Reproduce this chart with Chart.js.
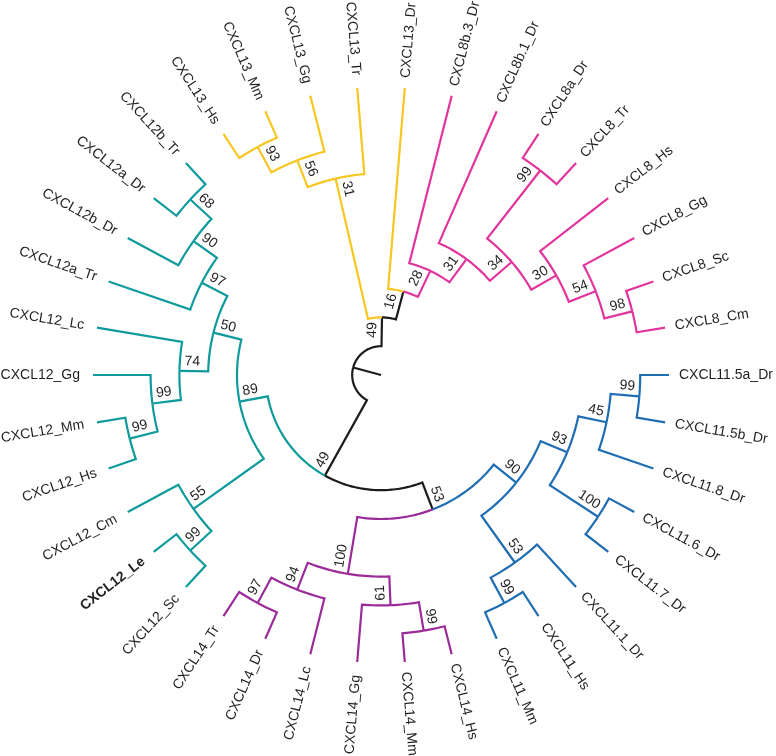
<!DOCTYPE html>
<html><head><meta charset="utf-8">
<script src="https://cdn.jsdelivr.net/npm/chart.js@4.4.0/dist/chart.umd.min.js"></script>
<style>html,body{margin:0;padding:0;background:#fff;}#wrap{width:776px;height:756px;}</style>
</head><body><div id="wrap"><canvas id="c" width="776" height="756"></canvas></div>
<script>
// ---- DATA (leaves listed counter-clockwise, starting just above 3 o'clock) ----
const leafNames = ['CXCL8_Cm','CXCL8_Sc','CXCL8_Gg','CXCL8_Hs','CXCL8_Tr','CXCL8a_Dr','CXCL8b.1_Dr','CXCL8b.3_Dr',
  'CXCL13_Dr','CXCL13_Tr','CXCL13_Gg','CXCL13_Mm','CXCL13_Hs',
  'CXCL12b_Tr','CXCL12a_Dr','CXCL12b_Dr','CXCL12a_Tr','CXCL12_Lc','CXCL12_Gg','CXCL12_Mm','CXCL12_Hs','CXCL12_Cm','CXCL12_Le','CXCL12_Sc',
  'CXCL14_Tr','CXCL14_Dr','CXCL14_Lc','CXCL14_Gg','CXCL14_Mm','CXCL14_Hs',
  'CXCL11_Mm','CXCL11_Hs','CXCL11.1_Dr','CXCL11.7_Dr','CXCL11.6_Dr','CXCL11.8_Dr','CXCL11.5b_Dr','CXCL11.5a_Dr'];
const leafParent = ['M98','M98','M54','M30','M99','M99','M31','M28',
  'N16','Y31','Y56','Y93','Y93',
  'T68','T68','T90','T97','T74','T99b','T99a','T99a','T55','T99c','T99c',
  'P97','P97','P94','P61','P99','P99',
  'B99','B99','B53','B100','B100','B45','B99x','B99x'];
const leafClade = ['magenta','magenta','magenta','magenta','magenta','magenta','magenta','magenta',
  'yellow','yellow','yellow','yellow','yellow',
  'teal','teal','teal','teal','teal','teal','teal','teal','teal','teal','teal',
  'purple','purple','purple','purple','purple','purple',
  'blue','blue','blue','blue','blue','blue','blue','blue'];
const boldLeaves = ['CXCL12_Le'];

const nodeIds     = ['R','A','N16','M28','M31','M34','M99','M30','M54','M98','Y31','Y56','Y93',
  'B','T89','T50','T97','T90','T68','T74','T99b','T99a','T55','T99c',
  'N53','P100','P94','P97','P61','P99','B90','B53','B99','B93','B100','B45','B99x'];
const nodeParent  = [null,'R','A','N16','M28','M31','M34','M34','M30','M54','A','Y31','Y56',
  'R','B','T89','T50','T97','T90','T50','T74','T99b','T89','T55',
  'B','N53','P100','P94','P100','P61','N53','B90','B53','B90','B93','B93','B45'];
const nodeDepth   = [1,2,3,4,5,6,9,7,8,9,7,8,9,
  4,5,6,7,8,9,7,8,9,8,9,
  5,7,8,9,8,9,6,8,9,7,9,8,9];
const nodeSupport = [null,49,16,28,31,34,99,30,54,98,31,56,93,
  49,89,50,97,90,68,74,99,99,55,99,
  53,100,94,97,61,99,90,53,99,93,100,45,99];
const nodeClade   = ['root','root','root','magenta','magenta','magenta','magenta','magenta','magenta','magenta','yellow','yellow','yellow',
  'root','teal','teal','teal','teal','teal','teal','teal','teal','teal','teal',
  'root','purple','purple','purple','purple','purple','blue','blue','blue','blue','blue','blue','blue'];
const tipDepth = 10;

// ---- STYLE ----
const cladeColor = {root:'#1c1c1c', teal:'#0f9a9b', yellow:'#f8c621', magenta:'#e1349c', purple:'#9b2b98', blue:'#1f6db2'};
const PX = 28.8;               // pixels per depth level
const CX = 381, CY = 375;      // centre of the circle in the canvas
const W = 776, H = 756;
const DEG = Math.PI / 180;
const FONT = '"Liberation Sans", Arial, Helvetica, sans-serif';

// ---- LAYOUT ----
const nLeaf = leafNames.length;
const leafTheta = leafNames.map((_, i) => (i + 1) * 360 / nLeaf);
const children = {};
nodeIds.forEach(id => children[id] = []);
nodeIds.forEach((id, i) => { if (nodeParent[i]) children[nodeParent[i]].push({leaf:false, i}); });
leafNames.forEach((n, i) => children[leafParent[i]].push({leaf:true, i}));
const nodeTheta = {};
function thetaOf(id){
  if (id in nodeTheta) return nodeTheta[id];
  const cs = children[id].map(c => c.leaf ? leafTheta[c.i] : thetaOf(nodeIds[c.i]));
  return nodeTheta[id] = (Math.min(...cs) + Math.max(...cs)) / 2;
}
nodeIds.forEach(thetaOf);
const depthOf = {}; nodeIds.forEach((id, i) => depthOf[id] = nodeDepth[i]);

const pol = (r, t) => ({x: r * Math.cos(t * DEG), y: r * Math.sin(t * DEG)});
function branch(rp, tp, rc, tc){
  const pts = [];
  const n = Math.max(1, Math.ceil(Math.abs(tc - tp) / 1));
  for (let k = 0; k <= n; k++) pts.push(pol(rp, tp + (tc - tp) * k / n));
  pts.push(pol(rc, tc));
  return pts;
}
function ds(pts, color){
  return {data: pts, showLine: true, borderColor: color, backgroundColor: color, borderWidth: 2.2,
    borderDash: [5000, 0],   // forces the exact path drawer (no per-pixel column merging)
    pointRadius: 0, pointHoverRadius: 0, borderJoinStyle: 'miter', borderCapStyle: 'butt', tension: 0, fill: false};
}
const datasets = [];
const order = [];
nodeIds.forEach((id, i) => { if (nodeParent[i]) order.push({leaf:false, i}); });
leafNames.forEach((n, i) => order.push({leaf:true, i}));
order.sort((a, b) => {
  const ca = a.leaf ? leafClade[a.i] : nodeClade[a.i];
  const cb = b.leaf ? leafClade[b.i] : nodeClade[b.i];
  return (ca === 'root') - (cb === 'root');
});
order.forEach(c => {
  const par = c.leaf ? leafParent[c.i] : nodeParent[c.i];
  const rc = c.leaf ? tipDepth : nodeDepth[c.i];
  const tc = c.leaf ? leafTheta[c.i] : nodeTheta[nodeIds[c.i]];
  const col = cladeColor[c.leaf ? leafClade[c.i] : nodeClade[c.i]];
  datasets.push(ds(branch(depthOf[par], nodeTheta[par], rc, tc), col));
});
nodeIds.forEach((id, i) => {
  if (!nodeParent[i]) datasets.push(ds([pol(0, nodeTheta[id]), pol(nodeDepth[i], nodeTheta[id])], cladeColor[nodeClade[i]]));
});

const labelPlugin = {
  id: 'treeLabels',
  afterDatasetsDraw(chart){
    const ctx = chart.ctx, xs = chart.scales.x, ys = chart.scales.y;
    const px = (r, t) => [xs.getPixelForValue(r * Math.cos(t * DEG)), ys.getPixelForValue(r * Math.sin(t * DEG))];
    ctx.save();
    ctx.fillStyle = '#231f20';
    ctx.textBaseline = 'middle';
    leafNames.forEach((name, i) => {
      const t = leafTheta[i];
      const [x, y] = px(tipDepth, t);
      const left = t > 90 && t < 270;
      ctx.save();
      ctx.translate(x, y);
      ctx.rotate((left ? 180 - t : -t) * DEG);
      ctx.font = (boldLeaves.includes(name) ? 'bold ' : '') + '14px ' + FONT;
      ctx.textAlign = left ? 'right' : 'left';
      ctx.fillText(name, left ? -13 : 10, 0);
      ctx.restore();
    });
    ctx.font = '14px ' + FONT;
    ctx.textAlign = 'center';
    nodeIds.forEach((id, i) => {
      if (nodeSupport[i] == null) return;
      const t = nodeTheta[id];
      const [x, y] = px(nodeDepth[i], t);
      const left = t > 90 && t < 275;
      const s = String(nodeSupport[i]);
      const w = ctx.measureText(s).width;
      const along = 5 + w / 2;
      ctx.save();
      ctx.translate(x, y);
      ctx.rotate((left ? 180 - t : -t) * DEG);
      ctx.fillText(s, left ? along : -along, -9.5);
      ctx.restore();
    });
    ctx.restore();
  }
};

new Chart(document.getElementById('c'), {
  type: 'scatter',
  data: {datasets},
  options: {
    animation: false,
    responsive: false,
    events: [],
    layout: {padding: 0},
    plugins: {legend: {display: false}, tooltip: {enabled: false}},
    scales: {
      x: {type: 'linear', display: false, min: -CX / PX, max: (W - CX) / PX},
      y: {type: 'linear', display: false, min: -(H - CY) / PX, max: CY / PX}
    }
  },
  plugins: [labelPlugin]
});
</script>
</body></html>
